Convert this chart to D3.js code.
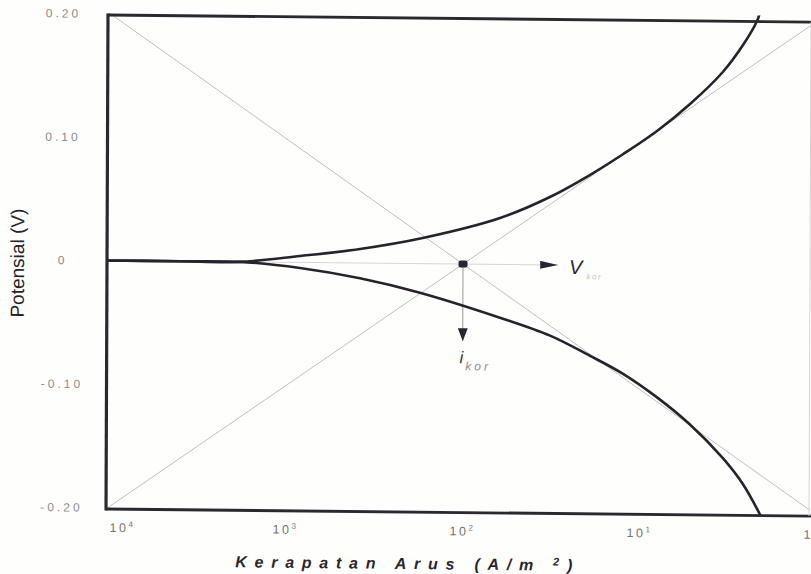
<!DOCTYPE html>
<html>
<head>
<meta charset="utf-8">
<script src="https://d3js.org/d3.v7.min.js"></script>
<style>
  body { margin: 0; background: #fefefc; }
  svg { display: block; }
</style>
</head>
<body>
<div id="grafik"></div>
<script>
// data kurva polarisasi
var arusAnodik = [11000, 4000, 1820, 834, 382, 169, 61.9, 32.4, 19.3, 12.5, 8.07, 5.26, 3.44, 2.65, 2.21, 2.15];
var potAnodik = [0, 0, 0, 0.0052, 0.0114, 0.0208, 0.0376, 0.055, 0.0731, 0.0904, 0.1093, 0.1314, 0.1576, 0.1796, 0.1992, 0.204];
var arusKatodik = [11000, 4000, 1820, 834, 382, 175, 61.7, 32.1, 19.05, 12.4, 7.96, 5.18, 3.37, 2.59, 2.07];
var potKatodik = [0, 0, 0, -0.0045, -0.0123, -0.0235, -0.0431, -0.0572, -0.0733, -0.0876, -0.1064, -0.1281, -0.1551, -0.176, -0.2006];

// garis tafel (ekstrapolasi)
var arusTafel = [10000, 1];
var potTafelNaik = [-0.2, 0.2];
var potTafelTurun = [0.2, -0.2];

// titik korosi
var arusKor = 100;
var potKor = 0;
var arusPanahV = [1820, 29];
var potPanahI = -0.0625;

// label sumbu
var tickX = [1e4, 1e3, 1e2, 1e1, 1];
var pangkatX = ["4", "3", "2", "1", "0"];
var tickY = [0.2, 0.1, 0, -0.1, -0.2];

const width = 811
const height = 574
const lebarPlot = 703
const tinggiPlot = 494
const huruf = "'Liberation Sans', Arial, sans-serif"

var svg = d3.select("#grafik")
    .append("svg")
    .attr("width", width)
    .attr("height", height);

// gambar hasil scan sedikit miring
var g = svg.append("g")
    .attr("transform", "matrix(1,0.01,-0.004,1,108,15)");

var xScale = d3.scaleLog()
    .domain([1e4, 1])
    .range([2, 710]);

var yScale = d3.scaleLinear()
    .domain([-0.2, 0.2])
    .range([tinggiPlot - 1.5, -1.5]);

var defs = svg.append("defs");

defs.append("clipPath")
    .attr("id", "potong")
  .append("rect")
    .attr("x", 0)
    .attr("y", -6)
    .attr("width", lebarPlot)
    .attr("height", tinggiPlot + 6);

// kepala panah untuk V kor (panjang) dan i kor (lebar)
function buatPanah(id, p, l) {
  defs.append("marker")
      .attr("id", id)
      .attr("markerUnits", "userSpaceOnUse")
      .attr("viewBox", "0 0 " + p + " " + l)
      .attr("refX", p)
      .attr("refY", l / 2)
      .attr("markerWidth", p)
      .attr("markerHeight", l)
      .attr("orient", "auto")
    .append("path")
      .attr("d", "M0,0 L" + p + "," + (l / 2) + " L0," + l + " Z")
      .attr("fill", "#2a2530");
}
buatPanah("panahV", 18, 8);
buatPanah("panahI", 13, 10);

var plot = g.append("g").attr("clip-path", "url(#potong)");

var garis = d3.line()
    .x(function(d) { return xScale(d[0]); })
    .y(function(d) { return yScale(d[1]); });

// garis tafel tipis
plot.append("path")
    .datum(d3.zip(arusTafel, potTafelTurun))
    .attr("d", garis)
    .attr("fill", "none")
    .attr("stroke", "#b8b8b8")
    .attr("stroke-width", 0.9);

plot.append("path")
    .datum(d3.zip(arusTafel, potTafelNaik))
    .attr("d", garis)
    .attr("fill", "none")
    .attr("stroke", "#b8b8b8")
    .attr("stroke-width", 0.9);

// garis bantu V kor dan i kor
plot.append("path")
    .datum([[arusPanahV[0], potKor], [arusPanahV[1], potKor]])
    .attr("d", garis)
    .attr("fill", "none")
    .attr("stroke", "#d0d0d0")
    .attr("stroke-width", 0.9)
    .attr("marker-end", "url(#panahV)");

plot.append("path")
    .datum([[arusKor, potKor], [arusKor, potPanahI]])
    .attr("d", garis)
    .attr("fill", "none")
    .attr("stroke", "#9a9a9a")
    .attr("stroke-width", 1)
    .attr("marker-end", "url(#panahI)");

// kurva anodik dan katodik
var kurva = d3.line()
    .curve(d3.curveCatmullRom.alpha(0.5))
    .x(function(d) { return xScale(d[0]); })
    .y(function(d) { return yScale(d[1]); });

plot.append("path")
    .datum(d3.zip(arusAnodik, potAnodik))
    .attr("d", kurva)
    .attr("fill", "none")
    .attr("stroke", "#27222c")
    .attr("stroke-width", 2.6)
    .attr("stroke-linecap", "round");

plot.append("path")
    .datum(d3.zip(arusKatodik, potKatodik))
    .attr("d", kurva)
    .attr("fill", "none")
    .attr("stroke", "#27222c")
    .attr("stroke-width", 2.6)
    .attr("stroke-linecap", "round");

// titik korosi
g.append("rect")
    .attr("x", xScale(arusKor) - 4.5)
    .attr("y", yScale(potKor) - 3.5)
    .attr("width", 9)
    .attr("height", 7)
    .attr("rx", 2)
    .attr("fill", "#2a2530");

// bingkai
g.append("line")
    .attr("x1", 0).attr("y1", 0)
    .attr("x2", lebarPlot + 10).attr("y2", 0)
    .attr("stroke", "#2b2830").attr("stroke-width", 2.8);
g.append("line")
    .attr("x1", 0).attr("y1", tinggiPlot)
    .attr("x2", lebarPlot + 10).attr("y2", tinggiPlot)
    .attr("stroke", "#2b2830").attr("stroke-width", 2.8);
g.append("line")
    .attr("x1", 0).attr("y1", -1.4)
    .attr("x2", 0).attr("y2", tinggiPlot + 1.4)
    .attr("stroke", "#2b2830").attr("stroke-width", 3.2);
g.append("line")
    .attr("x1", lebarPlot).attr("y1", 0)
    .attr("x2", lebarPlot).attr("y2", tinggiPlot)
    .attr("stroke", "#d4d4d4").attr("stroke-width", 1);

// sumbu y
var sumbuY = g.append("g")
    .attr("class", "y-axis")
    .attr("transform", "translate(-46,0)")
    .call(d3.axisLeft(yScale)
        .tickValues(tickY)
        .tickSize(0)
        .tickPadding(0)
        .tickFormat(function(d) { return d === 0 ? "0" : d.toFixed(2); }));

sumbuY.select(".domain").remove();
sumbuY.selectAll("text")
    .attr("x", 1.5)
    .style("text-anchor", "middle")
    .style("font-family", huruf)
    .style("font-size", "12px")
    .style("letter-spacing", "3px")
    .style("fill", "#8a8a8a");

// sumbu x
var sumbuX = g.append("g")
    .attr("class", "x-axis")
    .attr("transform", "translate(0," + tinggiPlot + ")")
    .call(d3.axisBottom(xScale)
        .tickValues(tickX)
        .tickSize(0)
        .tickPadding(14)
        .tickFormat(function() { return ""; }));

sumbuX.select(".domain").remove();
sumbuX.selectAll("text")
    .attr("dx", function(d, i) { return i === 0 ? 14 : 0; })
    .style("text-anchor", "middle")
    .style("font-family", huruf)
    .style("font-size", "12.5px")
    .style("letter-spacing", "2.5px")
    .style("fill", "#747474")
    .each(function(d, i) {
      var t = d3.select(this);
      t.append("tspan").text("10");
      t.append("tspan")
          .attr("dy", -5)
          .style("font-size", "8px")
          .text(pangkatX[i]);
    });

// judul sumbu
g.append("text")
    .attr("transform", "translate(-83,249) rotate(-90)")
    .attr("text-anchor", "middle")
    .style("font-family", huruf)
    .style("font-size", "19px")
    .style("fill", "#27222c")
    .text("Potensial (V)");

var judulX = g.append("text")
    .attr("x", 298)
    .attr("y", 551)
    .attr("text-anchor", "middle")
    .attr("textLength", 337)
    .attr("lengthAdjust", "spacing")
    .style("font-family", huruf)
    .style("font-size", "16px")
    .style("font-weight", "bold")
    .style("font-style", "italic")
    .style("fill", "#2a2630");
judulX.append("tspan").text("Kerapatan Arus (A/m ");
judulX.append("tspan").attr("dy", -5).style("font-size", "11px").text("2");
judulX.append("tspan").attr("dy", 5).text(")");

// label V kor dan i kor
var labelV = g.append("text")
    .attr("x", xScale(arusPanahV[1]) + 11)
    .attr("y", yScale(potKor) + 9)
    .style("font-family", huruf)
    .style("font-style", "italic")
    .style("fill", "#2a2630");
labelV.append("tspan").style("font-size", "20px").text("V");
labelV.append("tspan").attr("dy", 5).attr("dx", 4)
    .style("font-size", "8px").style("fill", "#c4c4c4").style("letter-spacing", "1.5px").text("kor");

var labelI = g.append("text")
    .attr("x", xScale(arusKor) - 3)
    .attr("y", yScale(potPanahI) + 22)
    .style("font-family", huruf)
    .style("font-style", "italic")
    .style("fill", "#3a3640");
labelI.append("tspan").style("font-size", "17px").text("i");
labelI.append("tspan").attr("dy", 7).attr("dx", 2)
    .style("font-size", "12px").style("fill", "#8e8e8e").style("letter-spacing", "3px").text("kor");
</script>
</body>
</html>
